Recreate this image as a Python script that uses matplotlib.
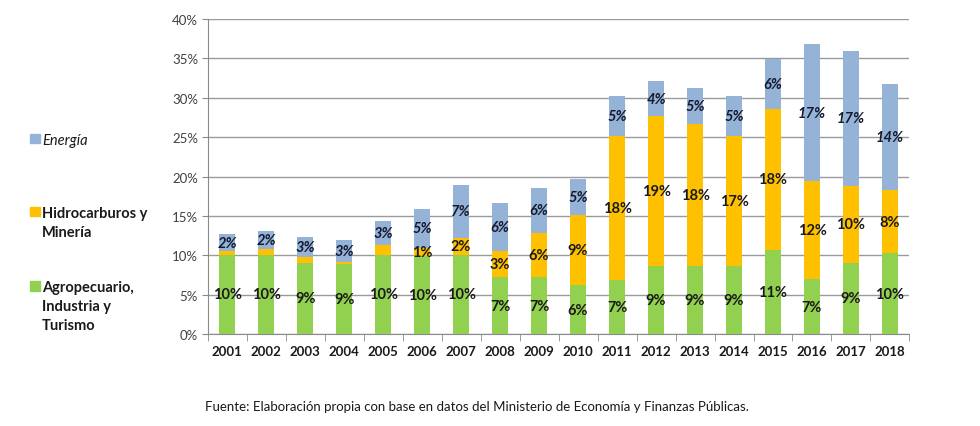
import numpy as np
import matplotlib.pyplot as plt
from matplotlib.patches import Rectangle

plt.rcParams['font.family'] = ['Lato', 'DejaVu Sans']

# data (share of GDP, %)
years = ['2001', '2002', '2003', '2004', '2005', '2006', '2007', '2008', '2009',
         '2010', '2011', '2012', '2013', '2014', '2015', '2016', '2017', '2018']
agro = [10.1, 10.1, 9.1, 8.9, 10.1, 9.9, 10.1, 7.2, 7.2,
        6.2, 6.9, 8.6, 8.6, 8.6, 10.7, 7.0, 9.1, 10.3]
hidro = [0.4, 0.7, 0.7, 0.25, 1.2, 1.1, 2.1, 3.4, 5.7,
         8.9, 18.3, 19.1, 18.1, 16.6, 17.9, 12.4, 9.7, 8.0]
energia = [2.2, 2.3, 2.6, 2.85, 3.1, 4.9, 6.8, 6.1, 5.7,
           4.6, 5.0, 4.4, 4.6, 5.0, 6.3, 17.4, 17.2, 13.5]

agro_lbl = ['10%', '10%', '9%', '9%', '10%', '10%', '10%', '7%', '7%',
            '6%', '7%', '9%', '9%', '9%', '11%', '7%', '9%', '10%']
hidro_lbl = ['', '', '', '', '', '1%', '2%', '3%', '6%',
             '9%', '18%', '19%', '18%', '17%', '18%', '12%', '10%', '8%']
energia_lbl = ['2%', '2%', '3%', '3%', '3%', '5%', '7%', '6%', '6%',
               '5%', '5%', '4%', '5%', '5%', '6%', '17%', '17%', '14%']

c_green = '#92D050'
c_yellow = '#FFC000'
c_blue = '#95B3D7'

fig = plt.figure(figsize=(9.8, 4.27), dpi=100)
ax = fig.add_axes([0.212, 0.215, 0.716, 0.738])

x = np.arange(len(years))
w = 0.41
agro = np.array(agro)
hidro = np.array(hidro)
energia = np.array(energia)

ax.bar(x, agro, w, color=c_green, zorder=3)
ax.bar(x, hidro, w, bottom=agro, color=c_yellow, zorder=3)
ax.bar(x, energia, w, bottom=agro + hidro, color=c_blue, zorder=3)

# labels centred in the segments
for i in range(len(years)):
    ax.text(x[i], agro[i] / 2, agro_lbl[i], ha='center', va='center',
            fontsize=10.5, fontweight='bold', color='#1a1a1a', zorder=4)
    if hidro_lbl[i]:
        ax.text(x[i], agro[i] + hidro[i] / 2, hidro_lbl[i], ha='center', va='center',
                fontsize=10.5, fontweight='bold', color='#1a1a1a', zorder=4)
    ax.text(x[i], agro[i] + hidro[i] + energia[i] / 2, energia_lbl[i], ha='center',
            va='center', fontsize=10.5, fontweight='bold', style='italic',
            color='#141a2e', zorder=4)

ax.set_xlim(-0.5, len(years) - 0.5)
ax.set_ylim(0, 40)
ax.set_yticks(np.arange(0, 41, 5))
ax.set_yticklabels([f'{v}%' for v in range(0, 41, 5)], fontsize=9.5, color='#404040')
ax.yaxis.grid(True, color='#9a9a9a', linewidth=1.0, zorder=0)
ax.tick_params(axis='y', length=4, color='#8a8a8a', pad=3)

ax.set_xticks(x)
ax.set_xticklabels(years, fontsize=9.5, fontweight='bold', color='#1a1a1a')
ax.set_xticks(np.arange(-0.5, len(years), 1), minor=True)
ax.tick_params(axis='x', which='major', length=0, pad=8)
ax.tick_params(axis='x', which='minor', length=5, color='#8a8a8a')

for s in ['top', 'right']:
    ax.spines[s].set_visible(False)
for s in ['left', 'bottom']:
    ax.spines[s].set_color('#8a8a8a')

# legend on the left
leg = [(c_blue, 'Energía', 'normal', 'italic', 0.674),
       (c_yellow, 'Hidrocarburos y\nMinería', 'bold', 'normal', 0.503),
       (c_green, 'Agropecuario,\nIndustria y\nTurismo', 'bold', 'normal', 0.328)]
for col, txt, wt, st, yy in leg:
    fig.patches.append(Rectangle((0.031, yy - 0.011), 0.0095, 0.022,
                                 transform=fig.transFigure, color=col))
    fig.text(0.043, yy + 0.013, txt, fontsize=10.5, fontweight=wt, style=st,
             va='top', ha='left', color='#1a1a1a', linespacing=1.45)

fig.text(0.209, 0.038, 'Fuente: Elaboración propia con base en datos del Ministerio '
         'de Economía y Finanzas Públicas.', fontsize=9.5, color='#1a1a1a')

fig.savefig('out.png', dpi=100)
